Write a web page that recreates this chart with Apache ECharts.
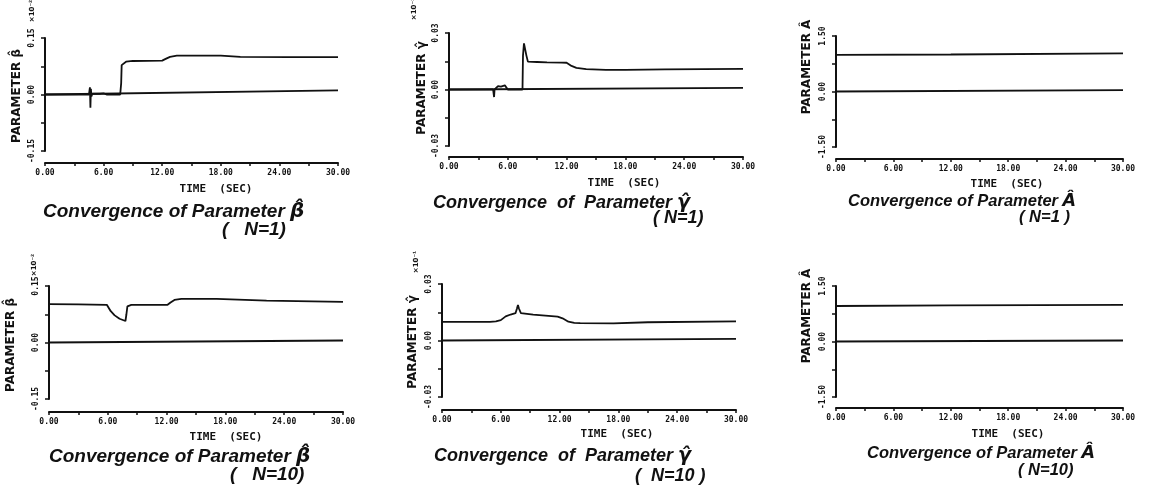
<!DOCTYPE html>
<html><head><meta charset="utf-8">
<script src="https://cdn.jsdelivr.net/npm/echarts@6/dist/echarts.min.js"></script>
<style>html,body{margin:0;padding:0;background:#fff}#c{width:1152px;height:491px}</style>
</head><body><div id="c"></div>
<script>
// ---- data (time in seconds, parameter values as plotted) ----
const betaN1_t = [0, 4.5, 4.6, 4.65, 4.7, 4.75, 4.85, 5.0, 5.6, 6.0, 6.3, 7.7, 7.8, 7.85, 8.0, 8.3, 9.0, 12.0, 12.3, 12.8, 13.5, 18.0, 20.0, 25, 30];
const betaN1_v = [0, 0, 0.019, -0.035, 0.015, -0.005, 0.002, 0, 0.002, 0.003, 0, 0, 0.03, 0.078, 0.082, 0.087, 0.089, 0.090, 0.094, 0.100, 0.103, 0.103, 0.100, 0.099, 0.099];
const betaN1_ref_t = [0, 30];
const betaN1_ref_v = [0, 0.011];

const gammaN1_t = [0, 4.5, 4.6, 4.65, 4.75, 5.0, 5.3, 5.5, 5.7, 5.85, 6.0, 7.5, 7.55, 7.65, 7.75, 7.9, 8.05, 9, 10, 11.5, 12.0, 12.5, 13.0, 14.0, 16.0, 18, 22, 30];
const gammaN1_v = [0, 0, -0.004, 0, 0.001, 0.0018, 0.0015, 0.001, 0.0022, 0.0025, 0, 0, 0.018, 0.0245, 0.0235, 0.018, 0.0148, 0.0146, 0.0144, 0.0143, 0.0142, 0.0125, 0.0115, 0.0108, 0.0104, 0.0104, 0.0107, 0.0109];
const gammaN1_ref_t = [0, 30];
const gammaN1_ref_v = [0, 0.0009];

const aN1_t = [0, 12, 30];
const aN1_v = [0.99, 1.0, 1.03];
const aN1_ref_t = [0, 30];
const aN1_ref_v = [0, 0.036];

const betaN10_t = [0, 3.0, 5.9, 6.0, 6.3, 6.7, 7.2, 7.8, 7.9, 8.0, 8.4, 10, 12.1, 12.4, 12.8, 13.5, 17.1, 22.2, 30];
const betaN10_v = [0.102, 0.101, 0.100, 0.097, 0.083, 0.072, 0.063, 0.057, 0.075, 0.096, 0.100, 0.100, 0.100, 0.106, 0.113, 0.1156, 0.1156, 0.111, 0.1076];
const betaN10_ref_t = [0, 30];
const betaN10_ref_v = [0, 0.0053];

const gammaN10_t = [0, 4.9, 5.5, 6.0, 6.5, 7.0, 7.5, 7.65, 7.75, 7.85, 8.05, 9.3, 11.8, 12.3, 12.9, 13.5, 14.1, 17.5, 21, 30];
const gammaN10_v = [0.0099, 0.0099, 0.0102, 0.0108, 0.0128, 0.0138, 0.0145, 0.017, 0.0188, 0.017, 0.0145, 0.0137, 0.0127, 0.0118, 0.0100, 0.0094, 0.0092, 0.0091, 0.0097, 0.0102];
const gammaN10_ref_t = [0, 30];
const gammaN10_ref_v = [0, 0.0009];

const aN10_t = [0, 12, 30];
const aN10_v = [0.96, 0.975, 0.99];
const aN10_ref_t = [0, 30];
const aN10_ref_v = [0, 0.027];

const yLimits = { beta: 0.15, gamma: 0.03, A: 1.5 };
const xMax = 30, xStep = 3, xLabelStep = 6;

const titleTexts = ['Convergence of Parameter ', 'Convergence  of  Parameter ', 'Convergence of Parameter ',
                    'Convergence of Parameter ', 'Convergence  of  Parameter ', 'Convergence of Parameter '];
const titleSymbols = ['β̂', 'γ̂', 'Â', 'β̂', 'γ̂', 'Â'];
const subtitles = ['(   N=1)', '( N=1)', '( N=1 )', '(   N=10)', '(  N=10 )', '( N=10)'];
const yNames = ['PARAMETER β̂', 'PARAMETER γ̂', 'PARAMETER Â', 'PARAMETER β̂', 'PARAMETER γ̂', 'PARAMETER Â'];
const exps = ['×10⁻²', '×10⁻¹', '', '×10⁻²', '×10⁻¹', ''];
const xName = 'TIME  (SEC)';

// ---- layout ----
const panels = [
  { kind:'beta',  t:betaN1_t,  v:betaN1_v,  rt:betaN1_ref_t,  rv:betaN1_ref_v,  grid:{left:45, top:38, width:293, height:113}, xoff:12,
    yname:[17,96], exp:[32,11], xname:[216,189], title:[43,212,19], sub:[222,230] },
  { kind:'gamma', t:gammaN1_t, v:gammaN1_v, rt:gammaN1_ref_t, rv:gammaN1_ref_v, grid:{left:449, top:33, width:294, height:113}, xoff:11,
    yname:[422,88], exp:[414,9], xname:[624,183], title:[433,203,18], sub:[653,218] },
  { kind:'A',     t:aN1_t,     v:aN1_v,     rt:aN1_ref_t,     rv:aN1_ref_v,     grid:{left:836, top:36, width:287, height:111}, xoff:12,
    yname:[807,67], exp:null, xname:[1007,184], title:[848,201,16.5], sub:[1019,217] },
  { kind:'beta',  t:betaN10_t, v:betaN10_v, rt:betaN10_ref_t, rv:betaN10_ref_v, grid:{left:49, top:286, width:294, height:113}, xoff:13,
    yname:[11,345], exp:[34,265], xname:[226,437], title:[49,457,19], sub:[230,475] },
  { kind:'gamma', t:gammaN10_t,v:gammaN10_v,rt:gammaN10_ref_t,rv:gammaN10_ref_v,grid:{left:442, top:284, width:294, height:113}, xoff:13,
    yname:[413,342], exp:[416,262], xname:[617,434], title:[434,456,18], sub:[635,476] },
  { kind:'A',     t:aN10_t,    v:aN10_v,    rt:aN10_ref_t,    rv:aN10_ref_v,    grid:{left:836, top:286, width:287, height:111}, xoff:11,
    yname:[807,316], exp:null, xname:[1008,434], title:[867,453,16.5], sub:[1018,470] }
];

const zip = (a, b) => a.map((x, i) => [x, b[i]]);
const ink = '#111';
const grids = [], xAxes = [], yAxes = [], series = [], graphics = [];

panels.forEach((p, i) => {
  const lim = yLimits[p.kind];
  grids.push(Object.assign({ containLabel:false }, p.grid));
  xAxes.push({
    type:'value', gridIndex:i, min:0, max:xMax, interval:xStep, offset:p.xoff,
    axisLine:{ show:true, onZero:false, lineStyle:{ color:ink, width:2 } },
    axisTick:{ show:true, length:3, lineStyle:{ color:ink, width:1.5 } },
    splitLine:{ show:false },
    axisLabel:{ margin:6, color:ink, fontFamily:'DejaVu Sans Mono', fontWeight:'bold', fontSize:8,
      formatter: v => (Math.round(v) % xLabelStep === 0 ? v.toFixed(2) : '') }
  });
  yAxes.push({
    type:'value', gridIndex:i, min:-lim, max:lim, interval:lim/2,
    axisLine:{ show:true, onZero:false, lineStyle:{ color:ink, width:2 } },
    axisTick:{ show:true, length:4, lineStyle:{ color:ink, width:1.5 } },
    splitLine:{ show:false },
    axisLabel:{ rotate:90, margin:9, color:ink, fontFamily:'DejaVu Sans Mono', fontWeight:'bold', fontSize:8,
      formatter: v => { const r = v / lim; return Math.abs(r - Math.round(r)) < 1e-6 ? v.toFixed(2) : ''; } }
  });
  series.push({ type:'line', xAxisIndex:i, yAxisIndex:i, data:zip(p.rt, p.rv), showSymbol:false, silent:true,
    lineStyle:{ color:ink, width:1.8 } });
  series.push({ type:'line', xAxisIndex:i, yAxisIndex:i, data:zip(p.t, p.v), showSymbol:false, silent:true,
    lineStyle:{ color:ink, width:1.8 } });

  graphics.push({ type:'text', x:p.yname[0], y:p.yname[1], rotation:Math.PI/2,
    style:{ text:yNames[i], fill:ink, font:'bold 12px "DejaVu Sans"', align:'center', verticalAlign:'middle' } });
  if (p.exp) graphics.push({ type:'text', x:p.exp[0], y:p.exp[1], rotation:Math.PI/2,
    style:{ text:exps[i], fill:ink, font:'bold 7px "DejaVu Sans"', align:'center', verticalAlign:'middle' } });
  graphics.push({ type:'text', x:p.xname[0], y:p.xname[1],
    style:{ text:xName, fill:ink, font:'bold 11px "DejaVu Sans Mono"', align:'center', verticalAlign:'middle' } });
  const fs = p.title[2];
  graphics.push({ type:'text', x:p.title[0], y:p.title[1],
    style:{ text:'{a|' + titleTexts[i] + '}{b|' + titleSymbols[i] + '}', align:'left', verticalAlign:'middle',
      rich:{ a:{ fill:ink, font:'italic bold ' + fs + 'px "Liberation Sans"' },
             b:{ fill:ink, font:'oblique bold ' + (fs + 1) + 'px "DejaVu Sans"' } } } });
  graphics.push({ type:'text', x:p.sub[0], y:p.sub[1],
    style:{ text:subtitles[i], fill:ink, font:'italic bold ' + fs + 'px "Liberation Sans"', align:'left', verticalAlign:'middle' } });
});

const chart = echarts.init(document.getElementById('c'), null, { renderer:'canvas' });
chart.setOption({
  animation:false, backgroundColor:'#fff',
  grid:grids, xAxis:xAxes, yAxis:yAxes, series:series, graphic:graphics
});
</script></body></html>
